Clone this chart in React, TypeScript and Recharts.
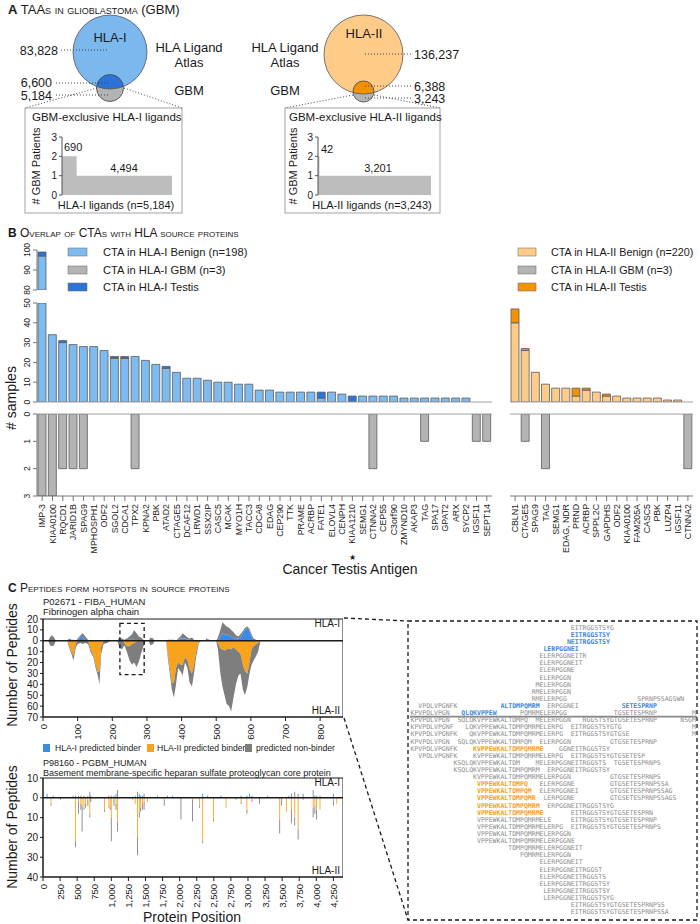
import React from "react";
import {
  AreaChart,
  Area,
  BarChart,
  Bar,
  XAxis,
  YAxis,
  ReferenceLine,
  ReferenceArea,
} from "recharts";

const FONT = "'Liberation Sans', Arial, Helvetica, sans-serif";
const MONO = "'DejaVu Sans Mono', monospace";
const INK = "#1a1a1a";

// ---------- panel A: GBM-exclusive ligands by number of patients
const A_I_PATIENTS = [2, 1];
const A_I_LIGANDS = [690, 4494];
const A_II_PATIENTS = [2, 1];
const A_II_LIGANDS = [42, 3201];

// ---------- panel B: CTAs with HLA-I / HLA-II source proteins
const CTA_I = [
  "IMP-3", "KIAA0100", "RQCD1", "JARID1B", "SPAG9", "MPHOSPH1", "ODF2", "SGOL2",
  "CDCA1", "TPX2", "KPNA2", "PBK", "ATAD2", "CTAGE5", "DCAF12", "LRWD1", "SSX2IP",
  "CASC5", "MCAK", "MYO1H", "TACC3", "CDCA8", "EDAG", "CEP290", "TTK", "PRAME",
  "ACRBP", "FATE1", "ELOVL4", "CENPH", "KIAA1210", "SEMG1", "CTNNA2", "CEP55",
  "C3orf90", "ZMYND10", "AKAP3", "TAG", "SPA17", "GPAT2", "ARX", "SYCP2", "IGSF11",
  "SEPT14",
];
const CTA_I_BENIGN = [97, 34, 30, 29, 28, 28, 26, 22, 22, 23, 21, 19, 17, 15, 12, 12, 11, 10, 10, 9, 9, 6, 6, 5, 5, 5, 5, 2, 5, 4, 0, 3, 3, 3, 3, 2, 2, 2, 2, 2, 2, 2, 0, 0];
const CTA_I_TESTIS = [2, 0, 1, 0, 0, 0, 0, 1, 1, 0, 0, 0, 1, 0, 0, 0, 0, 0, 0, 0, 0, 0, 0, 0, 0, 0, 0, 3, 0, 0, 3, 0, 0, 0, 0, 0, 0, 0, 0, 0, 0, 0, 0, 0];
const CTA_I_GBM = [3, 3, 2, 2, 2, 0, 0, 0, 0, 2, 0, 0, 0, 0, 0, 0, 0, 0, 0, 0, 0, 0, 0, 0, 0, 0, 0, 0, 0, 0, 0, 0, 2, 0, 0, 0, 0, 1, 0, 0, 0, 0, 1, 1];

const CTA_II = [
  "CBLN1", "CTAGE5", "SPAG9", "TAG", "SEMG1", "EDAG, NDR", "PRND", "ACRBP", "SPPL2C",
  "GAPDHS", "ODF2", "KIAA0100", "FAM205A", "CASC5", "PBK", "LUZP4", "IGSF11", "CTNNA2",
];
const CTA_II_BENIGN = [40, 26, 15, 9, 7, 7, 3, 6, 5, 3, 3, 2, 2, 2, 2, 1, 1, 0];
const CTA_II_TESTIS = [7, 1, 0, 0, 0, 0, 4, 1, 0, 1, 0, 0, 0, 0, 0, 0, 0, 0];
const CTA_II_GBM = [0, 1, 0, 2, 0, 0, 0, 0, 0, 0, 0, 0, 0, 0, 0, 0, 0, 2];

// ---------- panel C: peptide coverage along FIBA_HUMAN (866 aa)
const FIBA_LEN = 866;
const FIBA_POS = [0, 15, 20, 25, 32, 37, 70, 75, 82, 88, 95, 100, 108, 115, 122, 130, 137, 145, 152, 158, 163, 168, 175, 185, 195, 215, 220, 228, 235, 242, 250, 257, 263, 270, 277, 283, 290, 297, 305, 310, 318, 322, 355, 360, 366, 372, 378, 384, 390, 397, 403, 410, 417, 423, 430, 436, 442, 450, 457, 468, 472, 480, 487, 500, 505, 512, 518, 524, 530, 537, 543, 550, 557, 564, 570, 577, 583, 590, 596, 602, 608, 615, 621, 628, 866];
const FIBA_I_TOTAL = [0, 0, 3, 5, 3, 0, 0, 2, 1, 1, 0, 2, 5, 7, 4, 1, 0, 0, 0, 0, 0, 0, 0, 1, 0, 0, 3, 2, 1, 2, 4, 6, 10, 7, 4, 3, 1, 0, 0, 3, 2, 0, 0, 1, 1, 1, 1, 0, 2, 4, 7, 5, 3, 2, 3, 1, 0, 0, 0, 0, 2, 1, 0, 0, 3, 10, 17, 15, 13, 12, 10, 8, 5, 4, 6, 9, 12, 13, 11, 6, 2, 1, 0, 0, 0];
const FIBA_I_BINDER = [0, 0, 0, 0, 0, 0, 0, 2, 1, 0, 0, 1, 4, 3, 1, 0, 0, 0, 0, 0, 0, 0, 0, 0, 0, 0, 0, 0, 0, 0, 1, 2, 1, 0, 0, 0, 0, 0, 0, 0, 0, 0, 0, 1, 1, 0, 0, 0, 1, 2, 2, 2, 1, 1, 0, 0, 0, 0, 0, 0, 2, 0, 0, 0, 0, 4, 7, 6, 6, 5, 4, 3, 2, 2, 3, 7, 10, 12, 9, 4, 0, 0, 0, 0, 0];
const FIBA_II_TOTAL = [0, 0, 4, 5, 4, 0, 0, 6, 12, 18, 6, 3, 2, 3, 2, 3, 10, 15, 25, 32, 40, 12, 3, 2, 0, 0, 6, 8, 4, 10, 18, 22, 20, 24, 19, 12, 5, 0, 0, 4, 3, 0, 0, 15, 30, 45, 52, 40, 25, 28, 32, 20, 25, 38, 42, 30, 15, 2, 0, 0, 0, 0, 0, 0, 8, 30, 42, 50, 58, 60, 65, 52, 40, 32, 30, 45, 50, 42, 30, 22, 18, 14, 10, 0, 0];
const FIBA_II_BINDER = [0, 0, 0, 0, 0, 0, 0, 4, 10, 14, 2, 0, 0, 0, 0, 0, 8, 13, 22, 29, 28, 6, 0, 0, 0, 0, 0, 0, 2, 5, 5, 3, 2, 1, 0, 0, 0, 0, 0, 0, 0, 0, 0, 12, 25, 39, 38, 25, 20, 22, 22, 15, 18, 26, 30, 22, 10, 0, 0, 0, 0, 0, 0, 0, 2, 7, 8, 9, 8, 7, 8, 6, 8, 10, 12, 22, 28, 30, 20, 8, 5, 3, 2, 0, 0];
const FIBA_TICKS = [0, 100, 200, 300, 400, 500, 600, 700, 800];
const FIBA_YTICKS = [-70, -60, -50, -40, -30, -20, -10, 0, 10, 20];

// ---------- panel C: peptide coverage along PGBM_HUMAN (4391 aa)
const PGBM_LEN = 4391;
const PGBM_POS = [60, 118, 150, 255, 440, 475, 520, 555, 573, 600, 625, 657, 686, 700, 900, 965, 985, 1000, 1040, 1070, 1090, 1310, 1350, 1383, 1410, 1430, 1455, 1480, 1530, 1676, 1775, 1823, 1900, 2020, 2190, 2290, 2338, 2410, 2495, 2607, 2680, 2826, 2900, 2985, 3024, 3060, 3170, 3290, 3465, 3490, 3563, 3600, 3636, 3685, 3735, 3808, 3955, 3980, 4005, 4055, 4250, 4300];
const PGBM_I_TOTAL = [2, 0, 1, 0, 1, 1, 1, 1, 0, 1, 0, 1, 3, 1, 0, 1, 0, 1, 1, 2, 4, 0, 1, 3, 2, 1, 1, 2, 0, 1, 0, 1, 1, 0, 0, 0, 2, 1, 0, 1, 0, 0, 1, 1, 2, 1, 0, 1, 0, 0, 0, 1, 2, 3, 2, 2, 4, 1, 1, 1, 2, 0];
const PGBM_I_BINDER = [2, 0, 1, 0, 1, 1, 1, 0, 0, 1, 0, 1, 0, 0, 0, 1, 0, 0, 1, 1, 2, 0, 1, 2, 2, 1, 1, 2, 0, 1, 0, 1, 1, 0, 0, 0, 2, 1, 0, 1, 0, 0, 1, 1, 2, 1, 0, 1, 0, 0, 0, 1, 0, 0, 1, 0, 2, 1, 1, 1, 2, 0];
const PGBM_II_TOTAL = [0, 4, 0, 1, 0, 25, 8, 6, 17, 6, 5, 4, 10, 2, 7, 5, 6, 22, 4, 6, 17, 1, 3, 29, 10, 7, 6, 6, 2, 0, 4, 0, 0, 11, 12, 5, 23, 0, 12, 0, 5, 1, 3, 8, 0, 2, 3, 0, 18, 4, 7, 0, 13, 14, 21, 1, 10, 8, 11, 6, 4, 3];
const PGBM_II_BINDER = [0, 3, 0, 0, 0, 22, 2, 3, 4, 5, 3, 1, 8, 0, 6, 4, 5, 10, 1, 3, 12, 1, 3, 20, 7, 5, 3, 2, 2, 0, 1, 0, 0, 0, 1, 4, 22, 0, 11, 0, 5, 0, 2, 6, 0, 1, 0, 0, 11, 0, 7, 0, 6, 10, 16, 0, 5, 4, 6, 6, 1, 3];
const PGBM_TICKS = [0, 250, 500, 750, 1000, 1250, 1500, 1750, 2000, 2250, 2500, 2750, 3000, 3250, 3500, 3750, 4000, 4250];
const PGBM_YTICKS = [-40, -30, -20, -10, 0, 10];

// ---------- peptides in the FIBA hotspot (n = non-binder, i = HLA-I binder, ii = HLA-II binder)
const FIBA_SEGMENT = "KPVPDLVPGNFKSQLQKVPPEWKALTDMPQMRMELERPGGNEITRGGSTSYGTGSETESPRNPSSAGSWN";
type Pep = [string, string, number?];
const PEPTIDE_ROWS: Pep[][] = [
  [["EITRGGSTSYG", "n"]],
  [["EITRGGSTSY", "i"]],
  [["NEITRGGSTSY", "i"]],
  [["LERPGGNEI", "i"]],
  [["ELERPGGNEITR", "n"]],
  [["ELERPGGNEIT", "n"]],
  [["ELERPGGNE", "n"]],
  [["ELERPGGN", "n"]],
  [["MELERPGGN", "n"]],
  [["RMELERPGGN", "n"]],
  [["RMELERPGG", "n"], ["SPRNPSSAGSWN", "n"]],
  [["VPDLVPGNFK", "n"], ["ALTDMPQMRM", "i"], ["ERPGGNEI", "n"], ["SETESPRNP", "i"]],
  [["KPVPDLVPGN", "n"], ["QLQKVPPEW", "i"], ["PQMRMELERPGG", "n"], ["TGSETESPRNP", "n"], ["M", "n", 72]],
  [["KPVPDLVPGN", "n"], ["SQLQKVPPEWKALTDMPQ", "n"], ["MELERPGGN", "n"], ["RGGSTSYGTGSETESPRNP", "n"], ["NSGM", "n", 69]],
  [["KPVPDLVPGNF", "n"], ["LQKVPPEWKALTDMPQMRMELERPG", "n"], ["EITRGGSTSYGTG", "n"], ["M", "n", 72]],
  [["KPVPDLVPGNFK", "n"], ["QKVPPEWKALTDMPQMRMELERPG", "n"], ["EITRGGSTSYGTGSE", "n"], ["M", "n", 72]],
  [["KPVPDLVPGN", "n"], ["SQLQKVPPEWKALTDMPQM", "n"], ["ELERPGGN", "n"], ["GTGSETESPRNP", "n"]],
  [["KPVPDLVPGNFK", "n"], ["KVPPEWKALTDMPQMRME", "ii"], ["GGNEITRGGSTSY", "n"]],
  [["VPDLVPGNFK", "n"], ["KVPPEWKALTDMPQMRMELERPG", "n"], ["EITRGGSTSYGTGSETESP", "n"]],
  [["KSQLQKVPPEWKALTDM", "n"], ["MELERPGGNEITRGGSTS", "n"], ["TGSETESPRNPS", "n"]],
  [["KSQLQKVPPEWKALTDMPQMRM", "n"], ["ERPGGNEITRGGSTSY", "n"]],
  [["KVPPEWKALTDMPQMRMELERPGGN", "n"], ["GTGSETESPRNPS", "n"]],
  [["VPPEWKALTDMPQ", "ii"], ["ELERPGGNE", "n"], ["GTGSETESPRNPSSA", "n"]],
  [["VPPEWKALTDMPQM", "ii"], ["ELERPGGNEI", "n"], ["GTGSETESPRNPSSAG", "n"]],
  [["VPPEWKALTDMPQMR", "ii"], ["LERPGGNE", "n"], ["GTGSETESPRNPSSAGS", "n"]],
  [["VPPEWKALTDMPQMRM", "ii"], ["ERPGGNEITRGGSTSYG", "n"]],
  [["VPPEWKALTDMPQMRME", "ii"], ["EITRGGSTSYGTGSETESPRN", "n"]],
  [["VPPEWKALTDMPQMRMELE", "n"], ["EITRGGSTSYGTGSETESPRNP", "n"]],
  [["VPPEWKALTDMPQMRMELERPG", "n"], ["EITRGGSTSYGTGSETESPRNPS", "n"]],
  [["VPPEWKALTDMPQMRMELERPGGN", "n"]],
  [["VPPEWKALTDMPQMRMELERPGGNE", "n"]],
  [["TDMPQMRMELERPGGNEIT", "n"]],
  [["PQMRMELERPGGN", "n"]],
  [["ELERPGGNEIT", "n"]],
  [["ELERPGGNEITRGGST", "n"]],
  [["ELERPGGNEITRGGSTS", "n"]],
  [["ELERPGGNEITRGGSTSY", "n"]],
  [["LERPGGNEITRGGSTSY", "n"]],
  [["LERPGGNEITRGGSTSYG", "n"]],
  [["EITRGGSTSYGTGSETESPRNPSS", "n"]],
  [["EITRGGSTSYGTGSETESPRNPSSA", "n"]],
];

const BLUE_LIGHT = "#7dbbf0";
const BLUE_DARK = "#2b73d9";
const ORANGE_LIGHT = "#ffcb88";
const ORANGE_DARK = "#f39200";
const GREY_BAR = "#b4b4b4";
const EDGE = "#5c5c5c";
const C_BLUE = "#3b8ae6";
const C_ORANGE = "#f9a21b";
const C_GREY = "#7e7e7e";
const PEP_COLOR: Record<string, string> = { n: "#8d8d8d", i: "#3b86e2", ii: "#f7a11a" };

function stepRows(patients: number[], ligands: number[]) {
  const rows: { x: number; y: number }[] = [];
  let acc = 0;
  patients.forEach((p, i) => {
    rows.push({ x: acc, y: p });
    acc += ligands[i];
  });
  rows.push({ x: acc, y: patients[patients.length - 1] });
  return rows;
}

const ctaRows = (names: string[], benign: number[], testis: number[], gbm: number[]) =>
  names.map((name, i) => ({ name, benign: benign[i], testis: testis[i], gbm: gbm[i] }));

const coverageRows = (pos: number[], iT: number[], iB: number[], iiT: number[], iiB: number[]) =>
  pos.map((p, k) => ({
    pos: p,
    iB: iB[k],
    iR: iT[k] - iB[k],
    iiB: -iiB[k],
    iiR: -(iiT[k] - iiB[k]),
  }));

const ROWS_I = ctaRows(CTA_I, CTA_I_BENIGN, CTA_I_TESTIS, CTA_I_GBM);
const ROWS_II = ctaRows(CTA_II, CTA_II_BENIGN, CTA_II_TESTIS, CTA_II_GBM);
const FIBA_ROWS = coverageRows(FIBA_POS, FIBA_I_TOTAL, FIBA_I_BINDER, FIBA_II_TOTAL, FIBA_II_BINDER);
const PGBM_ROWS = coverageRows(PGBM_POS, PGBM_I_TOTAL, PGBM_I_BINDER, PGBM_II_TOTAL, PGBM_II_BINDER);

const fmtNum = (v: number) => Number(v).toLocaleString("en-US");
const absFmt = (v: number) => String(Math.abs(v));

function NameTick(props: any) {
  const { x, y, payload } = props;
  const ty = y + 1;
  return (
    <text x={x} y={ty} transform={`rotate(-90 ${x} ${ty})`} textAnchor="end" dominantBaseline="central"
      fontSize={8.8} fontFamily={FONT} fill={INK}>
      {payload.value}
    </text>
  );
}

function PosTick(props: any) {
  const { x, y, payload } = props;
  const ty = y + 1;
  return (
    <text x={x} y={ty} transform={`rotate(-90 ${x} ${ty})`} textAnchor="end" dominantBaseline="central"
      fontSize={9.5} fontFamily={FONT} fill={INK}>
      {fmtNum(payload.value)}
    </text>
  );
}

function YRotTick(props: any) {
  const { x, y, payload } = props;
  const tx = x - 1;
  return (
    <text x={tx} y={y} transform={`rotate(-90 ${tx} ${y})`} textAnchor="middle" fontSize={8.5}
      fontFamily={FONT} fill={INK}>
      {payload.value}
    </text>
  );
}

interface CtaProps {
  rows: any[];
  plotW: number;
  yAxisW: number;
  plotH: number;
  domain: [number, number];
  ticks?: number[];
  lower?: boolean;
  light: string;
  dark: string;
}

function CtaChart({ rows, plotW, yAxisW, plotH, domain, ticks, lower, light, dark }: CtaProps) {
  const mt = 8;
  const mb = lower ? 0 : 6;
  const xh = lower ? 65 : 0;
  return (
    <BarChart width={yAxisW + plotW} height={mt + plotH + mb + xh} data={rows} barSize={8}
      margin={{ top: mt, right: 0, bottom: mb, left: 0 }}>
      <XAxis dataKey="name" hide={!lower} height={xh} interval={0} tickSize={5}
        axisLine={{ stroke: "#777" }} tickLine={{ stroke: "#777" }} tick={<NameTick />} />
      <YAxis hide={yAxisW === 0} width={yAxisW} domain={domain} ticks={ticks} reversed={lower}
        allowDataOverflow interval={0} tickSize={4} axisLine={{ stroke: "#777" }}
        tickLine={{ stroke: "#777" }} tick={<YRotTick />} />
      <ReferenceLine y={0} stroke="#a0a0a0" />
      {lower && (
        <Bar dataKey="gbm" fill={GREY_BAR} stroke={EDGE} strokeWidth={0.8} isAnimationActive={false} />
      )}
      {!lower && (
        <Bar dataKey="benign" stackId="s" fill={light} stroke={EDGE} strokeWidth={0.8} isAnimationActive={false} />
      )}
      {!lower && (
        <Bar dataKey="testis" stackId="s" fill={dark} stroke={EDGE} strokeWidth={0.8} isAnimationActive={false} />
      )}
    </BarChart>
  );
}

function MiniSteps({ rows, total, plotW }: { rows: any[]; total: number; plotW: number }) {
  return (
    <AreaChart width={14 + plotW} height={69} data={rows} margin={{ top: 5, right: 0, bottom: 6, left: 0 }}>
      <XAxis type="number" dataKey="x" domain={[0, total]} hide />
      <YAxis type="number" domain={[0, 3]} ticks={[0, 1, 2, 3]} interval={0} width={14} tickSize={3}
        tick={{ fontSize: 10, fill: INK, fontFamily: FONT }} axisLine={{ stroke: "#555" }}
        tickLine={{ stroke: "#555" }} />
      <Area type="stepAfter" dataKey="y" stroke="none" fill="#bdbdbd" fillOpacity={1} isAnimationActive={false} />
    </AreaChart>
  );
}

function FibaChart() {
  return (
    <AreaChart width={322} height={128} data={FIBA_ROWS} margin={{ top: 5, right: 0, bottom: 0, left: 0 }}>
      <XAxis type="number" dataKey="pos" domain={[0, FIBA_LEN]} ticks={FIBA_TICKS} interval={0} height={25}
        tickSize={4} axisLine={{ stroke: INK }} tickLine={{ stroke: INK }} tick={<PosTick />} />
      <YAxis type="number" domain={[-70, 20]} ticks={FIBA_YTICKS} interval={0} width={22} tickSize={3}
        tickFormatter={absFmt} tick={{ fontSize: 10, fill: INK, fontFamily: FONT }}
        axisLine={{ stroke: INK }} tickLine={{ stroke: INK }} />
      <Area type="linear" dataKey="iB" stackId="up" stroke="none" fill={C_BLUE} fillOpacity={1} isAnimationActive={false} />
      <Area type="linear" dataKey="iR" stackId="up" stroke="none" fill={C_GREY} fillOpacity={1} isAnimationActive={false} />
      <Area type="linear" dataKey="iiB" stackId="down" stroke="none" fill={C_ORANGE} fillOpacity={1} isAnimationActive={false} />
      <Area type="linear" dataKey="iiR" stackId="down" stroke="none" fill={C_GREY} fillOpacity={1} isAnimationActive={false} />
      <ReferenceLine y={0} stroke={INK} strokeWidth={1.6} />
      <ReferenceArea x1={0} x2={FIBA_LEN} y1={-70} y2={20} fill="none" stroke={INK} strokeWidth={1} />
      <ReferenceArea x1={222} x2={292} y1={-31} y2={16} fill="none" stroke={INK} strokeWidth={1.3}
        strokeDasharray="4 3" />
    </AreaChart>
  );
}

function PgbmChart() {
  return (
    <BarChart width={322} height={136} data={PGBM_ROWS} stackOffset="sign" barSize={2.5}
      margin={{ top: 5, right: 0, bottom: 0, left: 0 }}>
      <XAxis type="number" dataKey="pos" domain={[0, PGBM_LEN]} ticks={PGBM_TICKS} interval={0} height={32}
        tickSize={4} axisLine={{ stroke: INK }} tickLine={{ stroke: INK }} tick={<PosTick />} />
      <YAxis type="number" domain={[-40, 10]} ticks={PGBM_YTICKS} interval={0} width={22} tickSize={3}
        tickFormatter={absFmt} tick={{ fontSize: 10, fill: INK, fontFamily: FONT }}
        axisLine={{ stroke: INK }} tickLine={{ stroke: INK }} />
      <Bar dataKey="iB" stackId="s" fill={C_BLUE} isAnimationActive={false} />
      <Bar dataKey="iR" stackId="s" fill={C_GREY} isAnimationActive={false} />
      <Bar dataKey="iiB" stackId="s" fill={C_ORANGE} isAnimationActive={false} />
      <Bar dataKey="iiR" stackId="s" fill={C_GREY} isAnimationActive={false} />
      <ReferenceLine y={0} stroke={INK} strokeWidth={1.6} />
      <ReferenceArea x1={0} x2={PGBM_LEN} y1={-40} y2={10} fill="none" stroke={INK} strokeWidth={1} />
    </BarChart>
  );
}

const Abs = ({ left, top, children }: { left: number; top: number; children: React.ReactNode }) => (
  <div style={{ position: "absolute", left, top }}>{children}</div>
);

function Txt({ x, y, size = 13, anchor = "start", children, weight, rotate, fill = INK }: any) {
  return (
    <text x={x} y={y} fontSize={size} textAnchor={anchor} fontFamily={FONT} fontWeight={weight} fill={fill}
      transform={rotate ? `rotate(${rotate} ${x} ${y})` : undefined}>
      {children}
    </text>
  );
}

function Overlay() {
  const dot = { stroke: "#333", strokeWidth: 0.9, strokeDasharray: "1 2" };
  const dash = { stroke: INK, strokeWidth: 1.3, strokeDasharray: "4 3", fill: "none" };
  const pepX0 = 410.5;
  const pepW = 3.91;
  const pepY0 = 629.8;
  const pepDy = 7.11;
  return (
    <svg width={700} height={924} style={{ position: "absolute", left: 0, top: 0 }}>
      <defs>
        <clipPath id="bigI"><circle cx={110} cy={52} r={37} /></clipPath>
        <clipPath id="bigII"><circle cx={363.5} cy={54.5} r={39.5} /></clipPath>
      </defs>

      {/* titles */}
      <text x={8} y={14} fontSize={13} fontFamily={FONT} fill={INK}>
        <tspan fontWeight="bold">A</tspan>
        <tspan style={{ fontVariant: "small-caps" }}> TAAs in glioblastoma </tspan>
        <tspan>(GBM)</tspan>
      </text>
      <text x={8} y={237} fontSize={12} fontFamily={FONT} fill={INK}>
        <tspan fontWeight="bold">B</tspan>
        <tspan style={{ fontVariant: "small-caps" }}> Overlap of CTAs with HLA source proteins</tspan>
      </text>
      <text x={8} y={592} fontSize={12} fontFamily={FONT} fill={INK}>
        <tspan fontWeight="bold">C</tspan>
        <tspan style={{ fontVariant: "small-caps" }}> Peptides form hotspots in source proteins</tspan>
      </text>

      {/* panel A, HLA-I */}
      <circle cx={110} cy={52} r={37} fill="#7ab8ee" />
      <circle cx={110} cy={88} r={13.5} fill="#b3b3b3" />
      <circle cx={110} cy={88} r={13.5} fill={BLUE_DARK} clipPath="url(#bigI)" />
      <circle cx={110} cy={88} r={13.5} fill="none" stroke="#444" strokeWidth={0.8} />
      <circle cx={110} cy={52} r={37} fill="none" stroke="#555" strokeWidth={0.8} />
      <Txt x={110} y={42} anchor="middle">HLA-I</Txt>
      <line x1={61} y1={50} x2={108} y2={50} {...dot} />
      <line x1={56} y1={83} x2={108} y2={83} {...dot} />
      <line x1={56} y1={95} x2={108} y2={95} {...dot} />
      <Txt x={58} y={55} anchor="end" size={12.5}>{fmtNum(83828)}</Txt>
      <Txt x={52} y={87} anchor="end" size={12.5}>{fmtNum(6600)}</Txt>
      <Txt x={52} y={100} anchor="end" size={12.5}>{fmtNum(5184)}</Txt>
      <Txt x={189} y={52} anchor="middle">HLA Ligand</Txt>
      <Txt x={189} y={67} anchor="middle">Atlas</Txt>
      <Txt x={189} y={95} anchor="middle">GBM</Txt>
      <line x1={97} y1={88} x2={25} y2={108} {...dot} />
      <line x1={124} y1={88} x2={182} y2={108} {...dot} />
      <rect x={25} y={108} width={157} height={105} fill="none" stroke="#999" strokeWidth={0.9} />
      <Txt x={32} y={121} size={11.5}>GBM-exclusive HLA-I ligands</Txt>
      <Txt x={40} y={166} size={11} anchor="middle" rotate={-90}># GBM Patients</Txt>
      <Txt x={64} y={151} size={11}>{fmtNum(A_I_LIGANDS[0])}</Txt>
      <Txt x={124} y={172} size={11} anchor="middle">{fmtNum(A_I_LIGANDS[1])}</Txt>
      <Txt x={116} y={209} size={11} anchor="middle">HLA-I ligands (n={fmtNum(5184)})</Txt>

      {/* panel A, HLA-II */}
      <circle cx={363.5} cy={54.5} r={39.5} fill={ORANGE_LIGHT} />
      <circle cx={363.5} cy={91.5} r={10.5} fill="#b3b3b3" />
      <circle cx={363.5} cy={91.5} r={10.5} fill={ORANGE_DARK} clipPath="url(#bigII)" />
      <circle cx={363.5} cy={91.5} r={10.5} fill="none" stroke="#444" strokeWidth={0.8} />
      <circle cx={363.5} cy={54.5} r={39.5} fill="none" stroke="#555" strokeWidth={0.8} />
      <Txt x={364} y={38} anchor="middle">HLA-II</Txt>
      <line x1={365} y1={54} x2={411} y2={54} {...dot} />
      <line x1={365} y1={86} x2={411} y2={86} {...dot} />
      <line x1={365} y1={98} x2={411} y2={98} {...dot} />
      <Txt x={414} y={59} size={12.5}>{fmtNum(136237)}</Txt>
      <Txt x={414} y={90.5} size={12.5}>{fmtNum(6388)}</Txt>
      <Txt x={414} y={103} size={12.5}>{fmtNum(3243)}</Txt>
      <Txt x={285} y={52} anchor="middle">HLA Ligand</Txt>
      <Txt x={285} y={67} anchor="middle">Atlas</Txt>
      <Txt x={285} y={95} anchor="middle">GBM</Txt>
      <line x1={353} y1={95} x2={285} y2={108} {...dot} />
      <line x1={374} y1={95} x2={440} y2={108} {...dot} />
      <rect x={285} y={108} width={155} height={105} fill="none" stroke="#999" strokeWidth={0.9} />
      <Txt x={289} y={121} size={11.5}>GBM-exclusive HLA-II ligands</Txt>
      <Txt x={297} y={166} size={11} anchor="middle" rotate={-90}># GBM Patients</Txt>
      <Txt x={321} y={153} size={11}>{fmtNum(A_II_LIGANDS[0])}</Txt>
      <Txt x={378} y={172} size={11} anchor="middle">{fmtNum(A_II_LIGANDS[1])}</Txt>
      <Txt x={372} y={209} size={11} anchor="middle">HLA-II ligands (n={fmtNum(3243)})</Txt>

      {/* panel B legends and labels */}
      <rect x={68} y={248} width={19} height={8} fill={BLUE_LIGHT} stroke="#777" strokeWidth={0.6} />
      <rect x={68} y={266} width={19} height={8} fill={GREY_BAR} stroke="#777" strokeWidth={0.6} />
      <rect x={68} y={283} width={19} height={8} fill={BLUE_DARK} stroke="#777" strokeWidth={0.6} />
      <Txt x={103} y={256} size={11.2}>CTA in HLA-I Benign (n=198)</Txt>
      <Txt x={103} y={274} size={11.2}>CTA in HLA-I GBM (n=3)</Txt>
      <Txt x={103} y={291} size={11.2}>CTA in HLA-I Testis</Txt>
      <rect x={518} y={248} width={18} height={8} fill={ORANGE_LIGHT} stroke="#777" strokeWidth={0.6} />
      <rect x={518} y={266} width={18} height={8} fill={GREY_BAR} stroke="#777" strokeWidth={0.6} />
      <rect x={518} y={283} width={18} height={8} fill={ORANGE_DARK} stroke="#777" strokeWidth={0.6} />
      <Txt x={551} y={256} size={10.8}>CTA in HLA-II Benign (n=220)</Txt>
      <Txt x={551} y={274} size={10.8}>CTA in HLA-II GBM (n=3)</Txt>
      <Txt x={551} y={291} size={10.8}>CTA in HLA-II Testis</Txt>
      <Txt x={16} y={398} size={14} anchor="middle" rotate={-90}># samples</Txt>
      <Txt x={352} y={560} size={8} anchor="middle">★</Txt>
      <Txt x={350} y={574} size={14} anchor="middle">Cancer Testis Antigen</Txt>

      {/* panel C labels */}
      <Txt x={43} y={605} size={9.5}>P02671 - FIBA_HUMAN</Txt>
      <Txt x={43} y={615} size={9.5}>Fibrinogen alpha chain</Txt>
      <Txt x={340} y={627} size={10} anchor="end">HLA-I</Txt>
      <Txt x={340} y={714} size={10} anchor="end">HLA-II</Txt>
      <Txt x={17} y={665} size={14} anchor="middle" rotate={-90}>Number of Peptides</Txt>
      <rect x={43} y={744} width={7} height={8} fill={C_BLUE} />
      <Txt x={55} y={751} size={8.6}>HLA-I predicted binder</Txt>
      <rect x={147} y={744} width={7} height={8} fill={C_ORANGE} />
      <Txt x={157} y={751} size={8.6}>HLA-II predicted binder</Txt>
      <rect x={245} y={744} width={7} height={8} fill={C_GREY} />
      <Txt x={256} y={751} size={8.6}>predicted non-binder</Txt>
      <Txt x={43} y={766} size={9}>P98160 - PGBM_HUMAN</Txt>
      <Txt x={43} y={775.5} size={9}>Basement membrane-specific heparan sulfate proteoglycan core protein</Txt>
      <Txt x={340} y={786} size={10} anchor="end">HLA-I</Txt>
      <Txt x={340} y={874} size={10} anchor="end">HLA-II</Txt>
      <Txt x={17} y={827} size={14} anchor="middle" rotate={-90}>Number of Peptides</Txt>
      <Txt x={192} y={922} size={14} anchor="middle">Protein Position</Txt>

      {/* zoom connectors and peptide box */}
      <line x1={344} y1={618} x2={408} y2={621} {...dash} />
      <line x1={344} y1={718} x2={408} y2={920} {...dash} />
      <rect x={408} y={621} width={289} height={299} {...dash} />
      <line x1={410} y1={716.6} x2={697} y2={716.6} stroke="#8a8a8a" strokeWidth={1.6} />
      {PEPTIDE_ROWS.map((row, r) =>
        row.map(([pep, kind, col], k) => {
          const c = col ?? FIBA_SEGMENT.indexOf(pep);
          return (
            <text key={`${r}-${k}`} x={pepX0 + c * pepW} y={pepY0 + r * pepDy} fontSize={6.5}
              fontFamily={MONO} fill={PEP_COLOR[kind]} fontWeight={kind === "n" ? "normal" : "bold"}>
              {pep}
            </text>
          );
        })
      )}
    </svg>
  );
}

export default function App() {
  return (
    <div style={{ position: "absolute", left: 0, top: 0, width: 700, height: 924, background: "#fff", overflow: "hidden", fontFamily: FONT }}>
      <Overlay />

      {/* panel A mini step charts */}
      <Abs left={48} top={132}>
        <MiniSteps rows={stepRows(A_I_PATIENTS, A_I_LIGANDS)} total={5184} plotW={110} />
      </Abs>
      <Abs left={304} top={132}>
        <MiniSteps rows={stepRows(A_II_PATIENTS, A_II_LIGANDS)} total={3243} plotW={113} />
      </Abs>

      {/* panel B, HLA-I: axis break 80-100, main 0-50, GBM below */}
      <Abs left={7} top={242}>
        <CtaChart rows={ROWS_I} plotW={455} yAxisW={30} plotH={40} domain={[80, 100]} ticks={[80, 90, 100]}
          light={BLUE_LIGHT} dark={BLUE_DARK} />
      </Abs>
      <Abs left={7} top={295}>
        <CtaChart rows={ROWS_I} plotW={455} yAxisW={30} plotH={99} domain={[0, 50]} ticks={[0, 10, 20, 30, 40, 50]}
          light={BLUE_LIGHT} dark={BLUE_DARK} />
      </Abs>
      <Abs left={7} top={406}>
        <CtaChart rows={ROWS_I} plotW={455} yAxisW={30} plotH={82} domain={[0, 3]} ticks={[0, 1, 2, 3]} lower
          light={BLUE_LIGHT} dark={BLUE_DARK} />
      </Abs>

      {/* panel B, HLA-II */}
      <Abs left={510} top={295}>
        <CtaChart rows={ROWS_II} plotW={183} yAxisW={0} plotH={99} domain={[0, 50]}
          light={ORANGE_LIGHT} dark={ORANGE_DARK} />
      </Abs>
      <Abs left={510} top={406}>
        <CtaChart rows={ROWS_II} plotW={183} yAxisW={0} plotH={82} domain={[0, 3]} lower
          light={ORANGE_LIGHT} dark={ORANGE_DARK} />
      </Abs>

      {/* panel C coverage plots */}
      <Abs left={21} top={614}>
        <FibaChart />
      </Abs>
      <Abs left={21} top={773}>
        <PgbmChart />
      </Abs>
    </div>
  );
}
